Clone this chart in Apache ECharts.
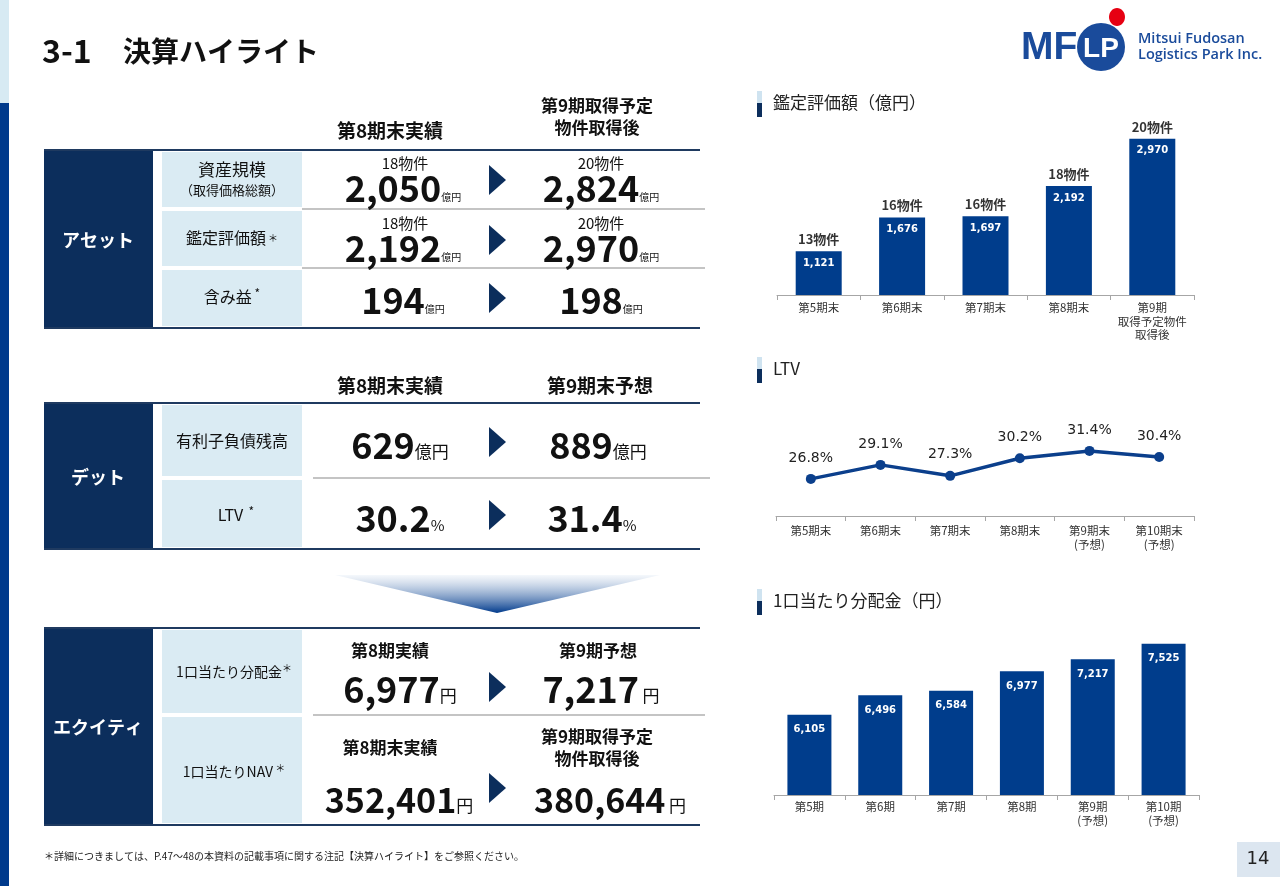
<!DOCTYPE html>
<html><head><meta charset="utf-8">
<script src="https://cdn.jsdelivr.net/npm/echarts@6/dist/echarts.min.js"></script>
<style>html,body{margin:0;padding:0;background:#fff}#c{width:1280px;height:886px}</style>
</head><body><div id="c"></div>
<script>
// ---- chart data ----
const apprCats = ['第5期末','第6期末','第7期末','第8期末','第9期\n取得予定物件\n取得後'];
const apprValues = [1121,1676,1697,2192,2970];
const apprCounts = [13,16,16,18,20];
const ltvCats = ['第5期末','第6期末','第7期末','第8期末','第9期末\n(予想)','第10期末\n(予想)'];
const ltvValues = [26.8,29.1,27.3,30.2,31.4,30.4];
const dpuCats = ['第5期','第6期','第7期','第8期','第9期\n(予想)','第10期\n(予想)'];
const dpuValues = [6105,6496,6584,6977,7217,7525];
// ---- table texts ----
const assetLabels = ['資産規模','鑑定評価額','含み益'];
const assetCounts8 = ['18物件','18物件',''];
const assetCounts9 = ['20物件','20物件',''];
const assetValues8 = ['2,050','2,192','194'];
const assetValues9 = ['2,824','2,970','198'];
const debtLabels = ['有利子負債残高','LTV'];
const debtValues8 = ['629','30.2'];
const debtValues9 = ['889','31.4'];
const debtUnits = ['億円','%'];
const eqLabels = ['1口当たり分配金','1口当たりNAV'];
const eqValues8 = ['6,977','352,401'];
const eqValues9 = ['7,217','380,644'];

const JP = '"Noto Sans CJK JP", sans-serif';
const DV = '"DejaVu Sans", sans-serif';
const NAVY = '#0c2e5c';
const BAR = '#003d8c';
const CELL = '#daebf3';
const fmt = v => Number(v).toLocaleString('en-US');

const g = [];
function rect(x,y,w,h,fill){ g.push({type:'rect',shape:{x,y,width:w,height:h},style:{fill},silent:true}); }
function line(x1,y1,x2,y2,stroke,w){ g.push({type:'line',shape:{x1,y1,x2,y2},style:{stroke,lineWidth:w},silent:true}); }
function text(x,y,t,o){ o=o||{}; g.push({type:'text',x,y,silent:true,style:Object.assign({text:t,fill:'#111',fontFamily:JP,fontSize:16,fontWeight:'normal',align:'center',verticalAlign:'middle'},o)}); }
function tri(x,cy){ g.push({type:'polygon',shape:{points:[[x,cy-15],[x+17,cy],[x,cy+15]]},style:{fill:NAVY},silent:true}); }
function big(x,y,num,unit,unitSize,space,size){
  size=size||36;
  g.push({type:'text',x,y,silent:true,style:{text:'{n|'+num+'}'+(space?'{s| }':'')+'{u|'+unit+'}',align:'center',verticalAlign:'middle',
    rich:{n:{fontFamily:JP,fontWeight:'bold',fontSize:size,fill:'#111',lineHeight:40,verticalAlign:'bottom'},
          s:{fontFamily:JP,fontSize:16,lineHeight:40,verticalAlign:'bottom'},
          u:{fontFamily:JP,fontSize:unitSize,fill:'#111',lineHeight:unitSize+8,verticalAlign:'bottom',padding:[0,0,unitSize<12?4:3,0]}}}});
}

// left edge stripe
rect(0,0,9,103,'#d7eaf3'); rect(0,103,9,783,'#003a8c');
// title
text(42,51,'3-1',{fontSize:32,fontWeight:'bold',align:'left'});
text(123,51,'決算ハイライト',{fontSize:28,fontWeight:'bold',align:'left'});
// logo
text(1021,48,'MF',{fontFamily:'"Liberation Sans", sans-serif',fontSize:39,fontWeight:'bold',fill:'#1a4b9b',align:'left'});
g.push({type:'circle',shape:{cx:1101,cy:47,r:24},style:{fill:'#1a4b9b'},silent:true});
text(1101,49,'LP',{fontFamily:'"Liberation Sans", sans-serif',fontSize:28,fontWeight:'bold',fill:'#fff'});
g.push({type:'ellipse',shape:{cx:1117,cy:17,rx:8,ry:9},style:{fill:'#e60012'},silent:true});
text(1138,39,'Mitsui Fudosan',{fontFamily:'"Open Sans", sans-serif',fontSize:14.5,fontWeight:600,fill:'#1a4b9b',align:'left'});
text(1138,55,'Logistics Park Inc.',{fontFamily:'"Open Sans", sans-serif',fontSize:14.5,fontWeight:600,fill:'#1a4b9b',align:'left'});

// ---- Asset table ----
text(390,131,'第8期末実績',{fontWeight:'bold',fontSize:19});
text(597,106,'第9期取得予定',{fontWeight:'bold',fontSize:17});
text(597,128,'物件取得後',{fontWeight:'bold',fontSize:17});
rect(44,150,109,178,NAVY);
text(98,240,'アセット',{fill:'#fff',fontWeight:'bold',fontSize:18});
const aRows=[[152,207],[211,266],[270,326]];
aRows.forEach(r=>rect(162,r[0],140,r[1]-r[0],CELL));
line(44,150,700,150,'#1f3a60',2); line(44,328,700,328,'#1f3a60',2);
line(302,209,705,209,'#c4c4c4',2); line(302,268,705,268,'#c4c4c4',2);
text(232,170,assetLabels[0],{fontSize:17});
text(232,190,'（取得価格総額）',{fontSize:13});
text(232,238,'{a|'+assetLabels[1]+'}{b| ＊}',{rich:{a:{fontFamily:JP,fontSize:16,fill:'#111'},b:{fontFamily:JP,fontSize:10,fill:'#111'}}});
text(232,297,'{a|'+assetLabels[2]+'}{b| *}',{rich:{a:{fontFamily:JP,fontSize:16,fill:'#111'},b:{fontFamily:JP,fontSize:12,fill:'#111',padding:[0,0,8,0]}}});
const aY=[186,246,298];
for(let i=0;i<3;i++){
  if(assetCounts8[i]) text(405,aY[i]-23,assetCounts8[i],{fontSize:15});
  if(assetCounts9[i]) text(601,aY[i]-23,assetCounts9[i],{fontSize:15});
  big(403,aY[i],assetValues8[i],'億円',10);
  big(601,aY[i],assetValues9[i],'億円',10);
}
tri(489,180); tri(489,240); tri(489,298);

// ---- Debt table ----
text(390,386,'第8期末実績',{fontWeight:'bold',fontSize:19});
text(600,386,'第9期末予想',{fontWeight:'bold',fontSize:19});
rect(44,403,109,146,NAVY);
text(98,477,'デット',{fill:'#fff',fontWeight:'bold',fontSize:18});
rect(162,405,140,71,CELL); rect(162,480,140,67,CELL);
line(44,403,700,403,'#1f3a60',2); line(44,549,700,549,'#1f3a60',2);
line(313,478,710,478,'#c4c4c4',2);
text(232,441,debtLabels[0],{fontSize:16});
text(236,515,'{a|'+debtLabels[1]+'}{b|  *}',{rich:{a:{fontFamily:JP,fontSize:16,fill:'#111'},b:{fontFamily:JP,fontSize:12,fill:'#111',padding:[0,0,8,0]}}});
big(400,443,debtValues8[0],debtUnits[0],17);
big(598,443,debtValues9[0],debtUnits[0],17);
big(400,516,debtValues8[1],debtUnits[1],15);
big(592,516,debtValues9[1],debtUnits[1],15);
tri(489,442); tri(489,515);

// arrow down
g.push({type:'polygon',shape:{points:[[335,575],[660,575],[497,613]]},silent:true,
  style:{fill:{type:'linear',x:0,y:0,x2:0,y2:1,colorStops:[{offset:0,color:'rgba(235,241,248,0.5)'},{offset:1,color:'#003a8c'}]}}});

// ---- Equity table ----
rect(44,628,109,197,NAVY);
text(98,727,'エクイティ',{fill:'#fff',fontWeight:'bold',fontSize:18});
rect(162,630,140,83,CELL); rect(162,717,140,106,CELL);
line(44,628,700,628,'#1f3a60',2); line(44,825,700,825,'#1f3a60',2);
line(313,715,705,715,'#c4c4c4',2);
text(234,672,'{a|'+eqLabels[0]+'}{b|＊}',{rich:{a:{fontFamily:JP,fontSize:14,fill:'#111'},b:{fontFamily:JP,fontSize:10,fill:'#111',padding:[0,0,8,0]}}});
text(234,772,'{a|'+eqLabels[1]+'}{b| ＊}',{rich:{a:{fontFamily:JP,fontSize:14,fill:'#111'},b:{fontFamily:JP,fontSize:10,fill:'#111',padding:[0,0,8,0]}}});
text(390,651,'第8期実績',{fontWeight:'bold',fontSize:17});
text(598,651,'第9期予想',{fontWeight:'bold',fontSize:17});
big(400,687,eqValues8[0],'円',17);
big(601,687,eqValues9[0],'円',17,true);
text(390,748,'第8期末実績',{fontWeight:'bold',fontSize:17});
text(597,737,'第9期取得予定',{fontWeight:'bold',fontSize:17});
text(597,759,'物件取得後',{fontWeight:'bold',fontSize:17});
big(399,797,eqValues8[1],'円',17,false,34);
big(610,797,eqValues9[1],'円',17,true,34);
tri(489,687); tri(489,788);

// footnote
text(44,856,'＊詳細につきましては、P.47～48の本資料の記載事項に関する注記【決算ハイライト】をご参照ください。',{fontSize:10,align:'left',fill:'#222'});
// page number
rect(1237,842,43,35,'#dce6f0');
text(1258,859,'14',{fontFamily:DV,fontSize:18,fill:'#222'});

// right titles
function ctitle(y,t){ rect(757,y-12,5,12,'#cfe3f0'); rect(757,y,5,14,NAVY); text(773,y,t,{fontSize:17,align:'left',fill:'#222'}); }
ctitle(103,'鑑定評価額（億円）');
ctitle(369,'LTV');
ctitle(601,'1口当たり分配金（円）');

const xAxisBase = (idx,data,margin) => ({type:'category',gridIndex:idx,data,
  axisLine:{lineStyle:{color:'#a6a6a6',width:1}},
  axisTick:{show:true,length:5,lineStyle:{color:'#a6a6a6'}},
  axisLabel:{interval:0,fontFamily:JP,fontSize:11.5,color:'#333',margin,lineHeight:13.5}});

const option = {
  animation:false,
  backgroundColor:'#fff',
  grid:[
    {left:777,top:137,width:417,height:158},
    {left:776,top:429,width:418,height:87},
    {left:774,top:620,width:425,height:175}
  ],
  xAxis:[xAxisBase(0,apprCats,6),xAxisBase(1,ltvCats,8),xAxisBase(2,dpuCats,5)],
  yAxis:[
    {type:'value',gridIndex:0,min:400,max:3000,show:false},
    {type:'value',gridIndex:1,min:20.7,max:35,show:false},
    {type:'value',gridIndex:2,min:4500,max:8000,show:false}
  ],
  series:[
    {type:'bar',xAxisIndex:0,yAxisIndex:0,data:apprValues,barWidth:46,itemStyle:{color:BAR},
     label:{show:true,position:'insideTop',distance:7,formatter:p=>fmt(p.value),color:'#fff',fontFamily:DV,fontWeight:'bold',fontSize:10}},
    {type:'scatter',xAxisIndex:0,yAxisIndex:0,data:apprValues,symbolSize:1,itemStyle:{color:'rgba(0,0,0,0)'},
     label:{show:true,position:'top',distance:5,formatter:p=>apprCounts[p.dataIndex]+'物件',color:'#000',fontFamily:JP,fontWeight:'bold',fontSize:13}},
    {type:'line',xAxisIndex:1,yAxisIndex:1,data:ltvValues,symbol:'circle',symbolSize:10,
     lineStyle:{color:'#0b3f8c',width:3.5},itemStyle:{color:'#0b3f8c'},
     label:{show:true,position:'top',distance:9,formatter:p=>p.value.toFixed(1)+'%',color:'#222',fontFamily:DV,fontSize:14}},
    {type:'bar',xAxisIndex:2,yAxisIndex:2,data:dpuValues,barWidth:44,itemStyle:{color:BAR},
     label:{show:true,position:'insideTop',distance:10,formatter:p=>fmt(p.value),color:'#fff',fontFamily:DV,fontWeight:'bold',fontSize:10}}
  ],
  graphic:{elements:g}
};
const chart = echarts.init(document.getElementById('c'),null,{renderer:'canvas'});
chart.setOption(option);
</script></body></html>
